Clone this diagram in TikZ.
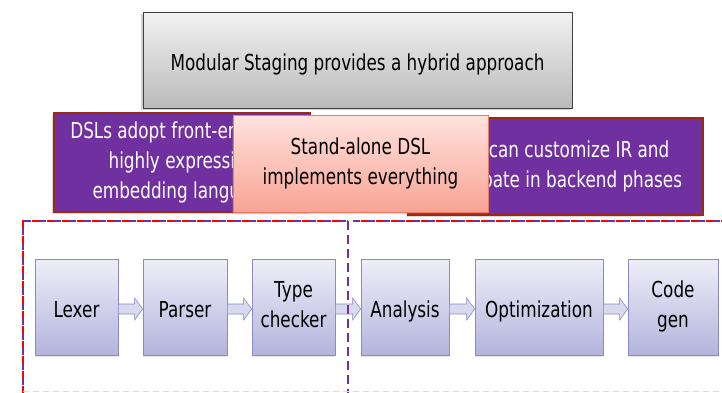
\documentclass[tikz,border=0pt]{standalone}
\usepackage{fontspec}
\setmainfont[FakeStretch=0.765]{DejaVu Sans}
\usetikzlibrary{calc,shadows}

\definecolor{dslpurple}{HTML}{7030A0}
\definecolor{dslbrown}{HTML}{9A2A14}
\definecolor{pinktop}{HTML}{FFE2DE}
\definecolor{pinkbottom}{HTML}{F8A494}
\definecolor{pinkline}{HTML}{EE7A66}
\definecolor{lavtop}{HTML}{EEEEF8}
\definecolor{lavbottom}{HTML}{B4B4DD}
\definecolor{lavline}{HTML}{8A8AC6}

\tikzset{
  slidetext/.style={font=\fontsize{22}{30}\selectfont, align=center, inner sep=0pt,
    execute at begin node={\rule{0pt}{25pt}},
    execute at end node={\rule[-5pt]{0pt}{5pt}}},
  titlebox/.style={slidetext, draw=black!75, line width=0.8pt,
    top color=black!5, bottom color=black!27,
    drop shadow={shadow xshift=-2pt, shadow yshift=-2pt, opacity=.35}},
  purplebox/.style={slidetext, text=white, fill=dslpurple, draw=dslbrown, line width=1.6pt,
    drop shadow={shadow xshift=-2pt, shadow yshift=-2pt, opacity=.3}},
  pinkbox/.style={slidetext, draw=pinkline, line width=0.8pt,
    top color=pinktop, bottom color=pinkbottom,
    drop shadow={shadow xshift=-1pt, shadow yshift=-2pt, opacity=.25}},
  phasebox/.style={slidetext, draw=lavline, line width=0.7pt, minimum height=96pt,
    top color=lavtop, bottom color=lavbottom,
    drop shadow={shadow xshift=0pt, shadow yshift=-2pt, opacity=.2}},
  blockarrow/.style={draw=lavline, line width=0.6pt, fill=lavtop!65!lavbottom},
  purpledash/.style={dslpurple, line width=1.5pt, dash pattern=on 7pt off 8pt},
  reddash/.style={red, line width=1.5pt, dash pattern=on 7pt off 8pt, dash phase=7.5pt},
  splitdash/.style={dslpurple, line width=1.5pt, dash pattern=on 9pt off 5pt}
}

% hollow block arrow from one phase box to the next
\newcommand\flowarrow[2]{%
  \draw[blockarrow] ($(#1.east)+(0,-3)$) -- ($(#2.west)+(-8,-3)$) -- ($(#2.west)+(-8,-9)$)
    -- ($(#2.west)+(0,2)$) -- ($(#2.west)+(-8,13)$) -- ($(#2.west)+(-8,7)$) -- ($(#1.east)+(0,7)$) -- cycle;}

\begin{document}
\begin{tikzpicture}[x=1pt,y=-1pt]
    \useasboundingbox (0,0) rectangle (722,392);

    \node[titlebox, minimum width=429pt, minimum height=96pt] (msp) at (357.5,60)
        {Modular Staging provides a hybrid approach};

    % the two embedded-DSL boxes, then the stand-alone one on top
    \node[purplebox, minimum width=256pt, minimum height=99pt] (front) at (182,162.5)
        {DSLs adopt front-end from\\highly expressive\\embedding language};
    \node[purplebox, minimum width=295pt, minimum height=97pt] (back) at (555.5,166.5)
        {DSLs can customize IR and\\participate in backend phases};
    \node[pinkbox, minimum width=255pt, minimum height=97pt] (alone) at (360.5,163.5)
        {Stand-alone DSL\\implements everything};

    % compiler phases
    \node[phasebox, minimum width=83pt] (lexer) at (76.5,307) {Lexer};
    \node[phasebox, minimum width=84pt] (parser) at (185,307) {Parser};
    \node[phasebox, minimum width=83pt] (typer) at (293.5,307) {Type\\checker};
    \node[phasebox, minimum width=88pt] (analysis) at (405,307) {Analysis};
    \node[phasebox, minimum width=128pt] (opt) at (539,307) {Optimization};
    \node[phasebox, minimum width=90pt] (codegen) at (673,307) {Code\\gen};

    \flowarrow{lexer}{parser}
    \flowarrow{parser}{typer}
    \flowarrow{typer}{analysis}
    \flowarrow{analysis}{opt}
    \flowarrow{opt}{codegen}

    % front-end / back-end regions
    \draw[purpledash] (23,400) |- (348,221);
    \draw[reddash] (23,400) |- (348,221);
    \draw[purpledash] (353,221) -- (730,221);
    \draw[reddash] (353,221) -- (730,221);
    \draw[splitdash] (348,221) -- (348,400);
    \draw[black!15, line width=0.8pt, dash pattern=on 6pt off 4pt] (23,391) -- (730,391);
\end{tikzpicture}
\end{document}
